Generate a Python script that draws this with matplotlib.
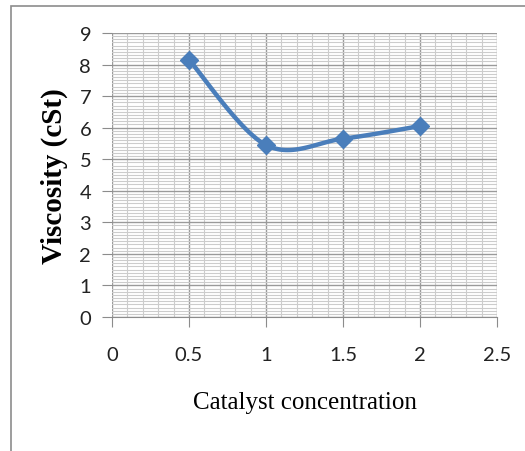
import numpy as np
import matplotlib.pyplot as plt
from matplotlib.patches import Rectangle

# Donnees
concentration = [0.5, 1.0, 1.5, 2.0]
viscosity = [8.15, 5.45, 5.65, 6.05]

x_ticks = [0, 0.5, 1, 1.5, 2, 2.5]
x_labels = ["0", "0.5", "1", "1.5", "2", "2.5"]
y_ticks = list(range(0, 10))


def smooth_curve(xs, ys, n=40, tension=0.5):
    # courbe lissee facon Excel (Catmull-Rom en Bezier)
    xs = np.asarray(xs, float)
    ys = np.asarray(ys, float)
    px = np.concatenate([[xs[0]], xs, [xs[-1]]])
    py = np.concatenate([[ys[0]], ys, [ys[-1]]])
    out_x, out_y = [], []
    t = np.linspace(0, 1, n)
    for i in range(1, len(px) - 2):
        p0 = np.array([px[i], py[i]])
        p3 = np.array([px[i + 1], py[i + 1]])
        p1 = p0 + (np.array([px[i + 1], py[i + 1]]) - np.array([px[i - 1], py[i - 1]])) * tension / 3
        p2 = p3 - (np.array([px[i + 2], py[i + 2]]) - np.array([px[i], py[i]])) * tension / 3
        b = ((1 - t) ** 3)[:, None] * p0 + (3 * (1 - t) ** 2 * t)[:, None] * p1 \
            + (3 * (1 - t) * t ** 2)[:, None] * p2 + (t ** 3)[:, None] * p3
        out_x.extend(b[:, 0])
        out_y.extend(b[:, 1])
    return out_x, out_y


fig = plt.figure(figsize=(5.25, 4.52), dpi=100)
ax = fig.add_axes([0.2133, 0.2965, 0.7334, 0.6283])

# bordure du graphique
fig.patches.append(Rectangle((11 / 525, -0.05), 1.2, (452 - 7) / 452 + 0.05, transform=fig.transFigure,
                             fill=False, edgecolor="#8c8c8c", linewidth=1.2))

ax.set_xlim(0, 2.5)
ax.set_ylim(0, 9)
ax.set_xticks(x_ticks)
ax.set_xticklabels(x_labels)
ax.set_yticks(y_ticks)
ax.set_xticks(np.arange(0, 2.51, 0.1), minor=True)
ax.set_yticks(np.arange(0, 9.01, 0.1), minor=True)

ax.grid(which="major", color="#9a9a9a", linewidth=1.0)
ax.grid(which="minor", color="#cccccc", linewidth=0.8)
ax.set_axisbelow(True)

for s in ["top", "right", "left"]:
    ax.spines[s].set_visible(False)
ax.spines["bottom"].set_color("#8c8c8c")

ax.tick_params(axis="x", which="major", length=7, color="#8c8c8c", pad=14,
               labelsize=14.5, labelcolor="#222222")
ax.tick_params(axis="y", which="major", length=7, color="#8c8c8c", pad=8,
               labelsize=14.5, labelcolor="#222222")
ax.tick_params(which="minor", length=0)
for lab in ax.get_xticklabels() + ax.get_yticklabels():
    lab.set_family("Lato")

sx, sy = smooth_curve(concentration, viscosity)
ax.plot(sx, sy, color="#4a7ebb", linewidth=3.2, solid_capstyle="round", zorder=3)
ax.plot(concentration, viscosity, linestyle="none", marker="D", markersize=9,
        color="#4a7ebb", zorder=4, clip_on=False)

ax.set_xlabel("Catalyst concentration", family="Liberation Serif", fontsize=18, labelpad=20)
ax.set_ylabel("Viscosity (cSt)", family="Liberation Serif", fontsize=21, fontweight="bold", labelpad=8)

plt.savefig("out.png", dpi=100)
